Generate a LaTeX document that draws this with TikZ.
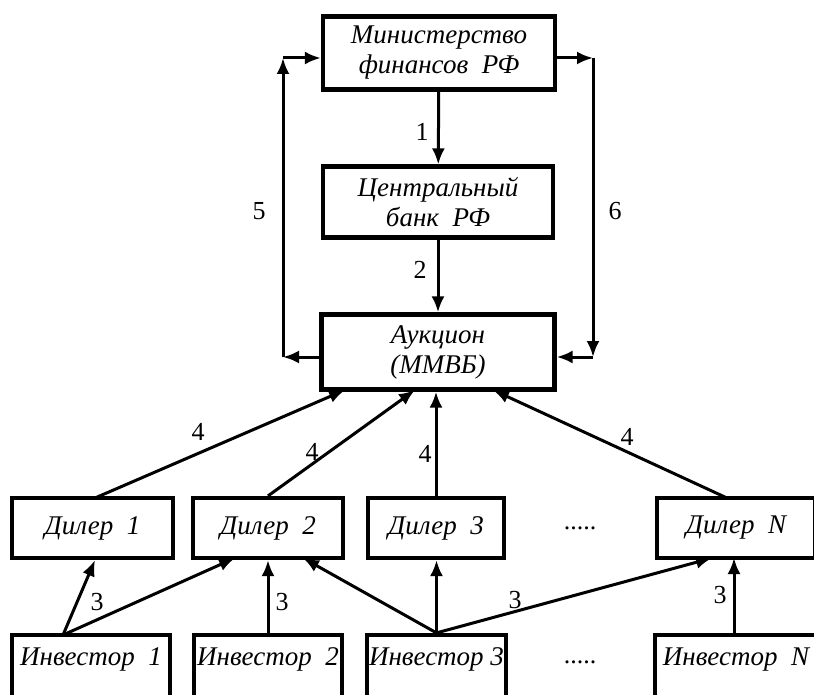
\documentclass[tikz,border=0pt]{standalone}
\usepackage{fontspec}
\setmainfont{Liberation Serif}
\usetikzlibrary{arrows.meta}
\usetikzlibrary{positioning}

\begin{document}
\begin{tikzpicture}[x=1pt,y=-1pt]
			\tikzset{box/.style = {shape=rectangle,draw,line width=4.2pt,
					inner sep = 0pt, align=center,
					font=\fontsize{27}{30}\selectfont\itshape}}
			\tikzset{invbox/.style = {box, text depth=22pt}}
			\tikzset{edge/.style = {-{Latex[length=16pt,width=13pt]}, line width=3pt}}
			\tikzset{num/.style = {font=\fontsize{26}{28}\selectfont}}
			
			\clip (0,0) rectangle (814,695);
			
			% boxes
			\node[box, minimum width=232pt, minimum height=73pt] (mf) at (439,53) {Министерство\\финансов\ \ РФ};
			\node[box, minimum width=230pt, minimum height=71pt] (cb) at (438,202) {Центральный\\банк\ \ РФ};
			\node[box, minimum width=233pt, minimum height=75pt] (auc) at (438,352) {Аукцион\\(ММВБ)};
			
			\node[box, minimum width=161pt, minimum height=60pt] (d1) at (92.5,528) {Дилер\ \ 1};
			\node[box, minimum width=150pt, minimum height=60pt] (d2) at (268,528) {Дилер\ \ 2};
			\node[box, minimum width=136pt, minimum height=60pt] (d3) at (436,528) {Дилер\ \ 3};
			\node[box, minimum width=158pt, minimum height=60pt] (dN) at (736,528) {Дилер\ \ N};
			\node (dots1) at (580,528) {\fontsize{26}{28}\selectfont .....};
			
			\node[invbox, minimum width=158pt, minimum height=66pt] (i1) at (91,668) {Инвестор\ \ 1};
			\node[invbox, minimum width=148pt, minimum height=66pt] (i2) at (268,668) {Инвестор\ \ 2};
			\node[invbox, minimum width=139pt, minimum height=66pt] (i3) at (436.5,668) {Инвестор 3};
			\node[invbox, minimum width=162pt, minimum height=66pt] (iN) at (736,668) {Инвестор\ \ N};
			\node (dots2) at (580,662) {\fontsize{26}{28}\selectfont .....};
			
			% corner points
			\coordinate (c5b) at (283,357);
			\coordinate (c5t) at (283,58);
			\coordinate (c6t) at (593,58);
			\coordinate (c6b) at (593,357);
			\coordinate (a1) at (345,390);
			\coordinate (a2) at (415,390);
			\coordinate (a4) at (493,390);
			\coordinate (dt1) at (95,498);
			\coordinate (dtN) at (727,498);
			\coordinate (db2a) at (235,558);
			\coordinate (db2c) at (303,558);
			\coordinate (dbNa) at (712,558);
			\coordinate (dbNb) at (734,558);
			\coordinate (it1) at (63,635);
			\coordinate (itN) at (734,635);
			
			%edges
			\draw[edge] (mf) to (cb);
			\draw[edge] (cb) to (auc);
			
			\draw[edge] (auc.west |- c5b) -- (c5b);
			\draw[edge] (c5b) -- (c5t);
			\draw[edge] (c5t) -- (mf.west |- c5t);
			
			\draw[edge] (mf.east |- c6t) -- (c6t);
			\draw[edge] (c6t) -- (c6b);
			\draw[edge] (c6b) -- (auc.east |- c6b);
			
			\draw[edge] (dt1) to (a1);
			\draw[edge] (d2.north) to (a2);
			\draw[edge] (d3.north) to (d3.north |- auc.south);
			\draw[edge] (dtN) to (a4);
			
			\draw[edge] (it1) to (d1.south -| dt1);
			\draw[edge] (it1) to (db2a);
			\draw[edge] (i2) to (d2);
			\draw[edge] (i3.north) to (db2c);
			\draw[edge] (i3.north) to (i3.north |- d3.south);
			\draw[edge] (i3.north) to (dbNa);
			\draw[edge] (itN) to (dbNb);
			
			% numbers
			\node[num] (n1) at (422,132) {1};
			\node[num] (n2) at (420,270) {2};
			\node[num] (n5) at (259,211) {5};
			\node[num] (n6) at (615,211) {6};
			\node[num] (n4a) at (198,432) {4};
			\node[num] (n4b) at (312,452) {4};
			\node[num] (n4c) at (425,454) {4};
			\node[num] (n4d) at (627,437) {4};
			\node[num] (n3a) at (97,602) {3};
			\node[num] (n3b) at (282,602) {3};
			\node[num] (n3c) at (515,600) {3};
			\node[num] (n3d) at (720,595) {3};
			
\end{tikzpicture}
\end{document}
